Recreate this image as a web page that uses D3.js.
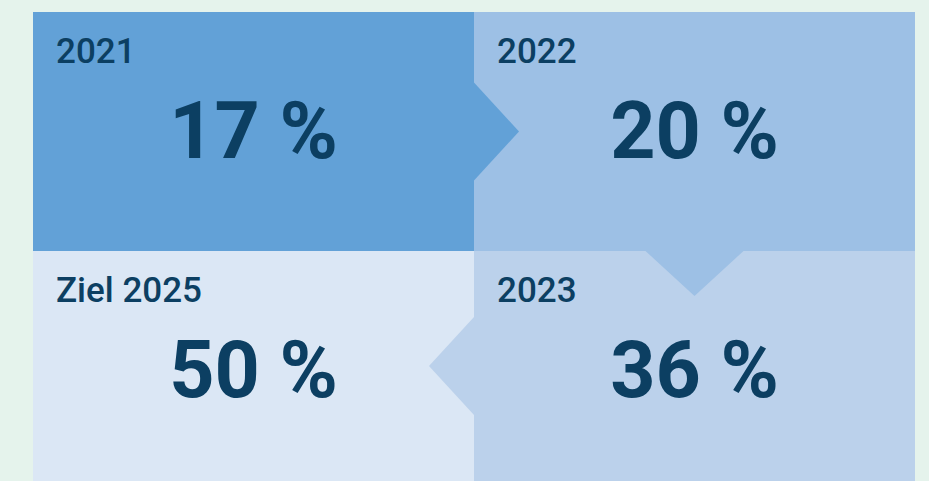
<!DOCTYPE html>
<html>
<head>
<meta charset="utf-8">
<script src="https://cdn.jsdelivr.net/npm/d3@7"></script>
<style>
  body { margin: 0; background: #e5f3ec; }
  svg { display: block; }
  text { font-family: Roboto, "DejaVu Sans", sans-serif; fill: #0c3f62; }
</style>
</head>
<body>
<svg class="steps_svg" width="929" height="481"></svg>
<script>
// steps in reading order: top-left, top-right, bottom-right, bottom-left
var labels = ["2021", "2022", "2023", "Ziel 2025"];
var values = [17, 20, 36, 50];
var cols = [0, 1, 1, 0];
var rows = [0, 0, 1, 1];
var fills = ["#62a1d7", "#9dc0e5", "#bbd1eb", "#dbe7f5"];

var svg = d3.select(".steps_svg"),
    width = +svg.attr("width"),
    height = +svg.attr("height");

var x = d3.scaleBand().domain([0, 1]).range([33, 915]);
var y = d3.scaleBand().domain([0, 1]).range([12, 490]);

var steps = labels.map(function(l, i) {
  return {label: l, value: values[i], col: cols[i], row: rows[i], fill: fills[i]};
});

var panels = svg.append("g").attr("class", "panels")
  .selectAll("g").data(steps).enter().append("g")
  .attr("transform", function(d) { return "translate(" + x(d.col) + "," + y(d.row) + ")"; });

panels.append("rect")
  .attr("width", x.bandwidth())
  .attr("height", y.bandwidth())
  .style("fill", function(d) { return d.fill; });

panels.append("text")
  .attr("x", 23)
  .attr("y", 51)
  .style("font-size", "35px")
  .style("font-weight", 500)
  .text(function(d) { return d.label; });

panels.append("text")
  .attr("x", x.bandwidth() / 2)
  .attr("y", 146)
  .style("text-anchor", "middle")
  .style("font-size", "79px")
  .style("font-weight", 700)
  .text(function(d) { return d.value + " %"; });

// arrows pointing from each step into the next one
var half = 49, depth = 45;
function arrow(a, b) {
  var ax = x(a.col) + x.bandwidth() / 2, ay = y(a.row) + y.bandwidth() / 2;
  if (a.row === b.row) {
    var dir = b.col > a.col ? 1 : -1;
    var ex = dir > 0 ? x(a.col) + x.bandwidth() : x(a.col);
    var cy = (y(a.row) + Math.min(y(a.row) + y.bandwidth(), height)) / 2;
    return [[ex, cy - half], [ex + dir * depth, cy], [ex, cy + half]];
  } else {
    var ey = y(a.row) + y.bandwidth();
    return [[ax - half, ey], [ax, ey + depth], [ax + half, ey]];
  }
}

svg.append("g").attr("class", "arrows")
  .selectAll("path").data(steps.slice(0, -1)).enter().append("path")
  .attr("d", function(d, i) { return d3.line()(arrow(d, steps[i + 1])) + "Z"; })
  .style("fill", function(d) { return d.fill; });
</script>
</body>
</html>
